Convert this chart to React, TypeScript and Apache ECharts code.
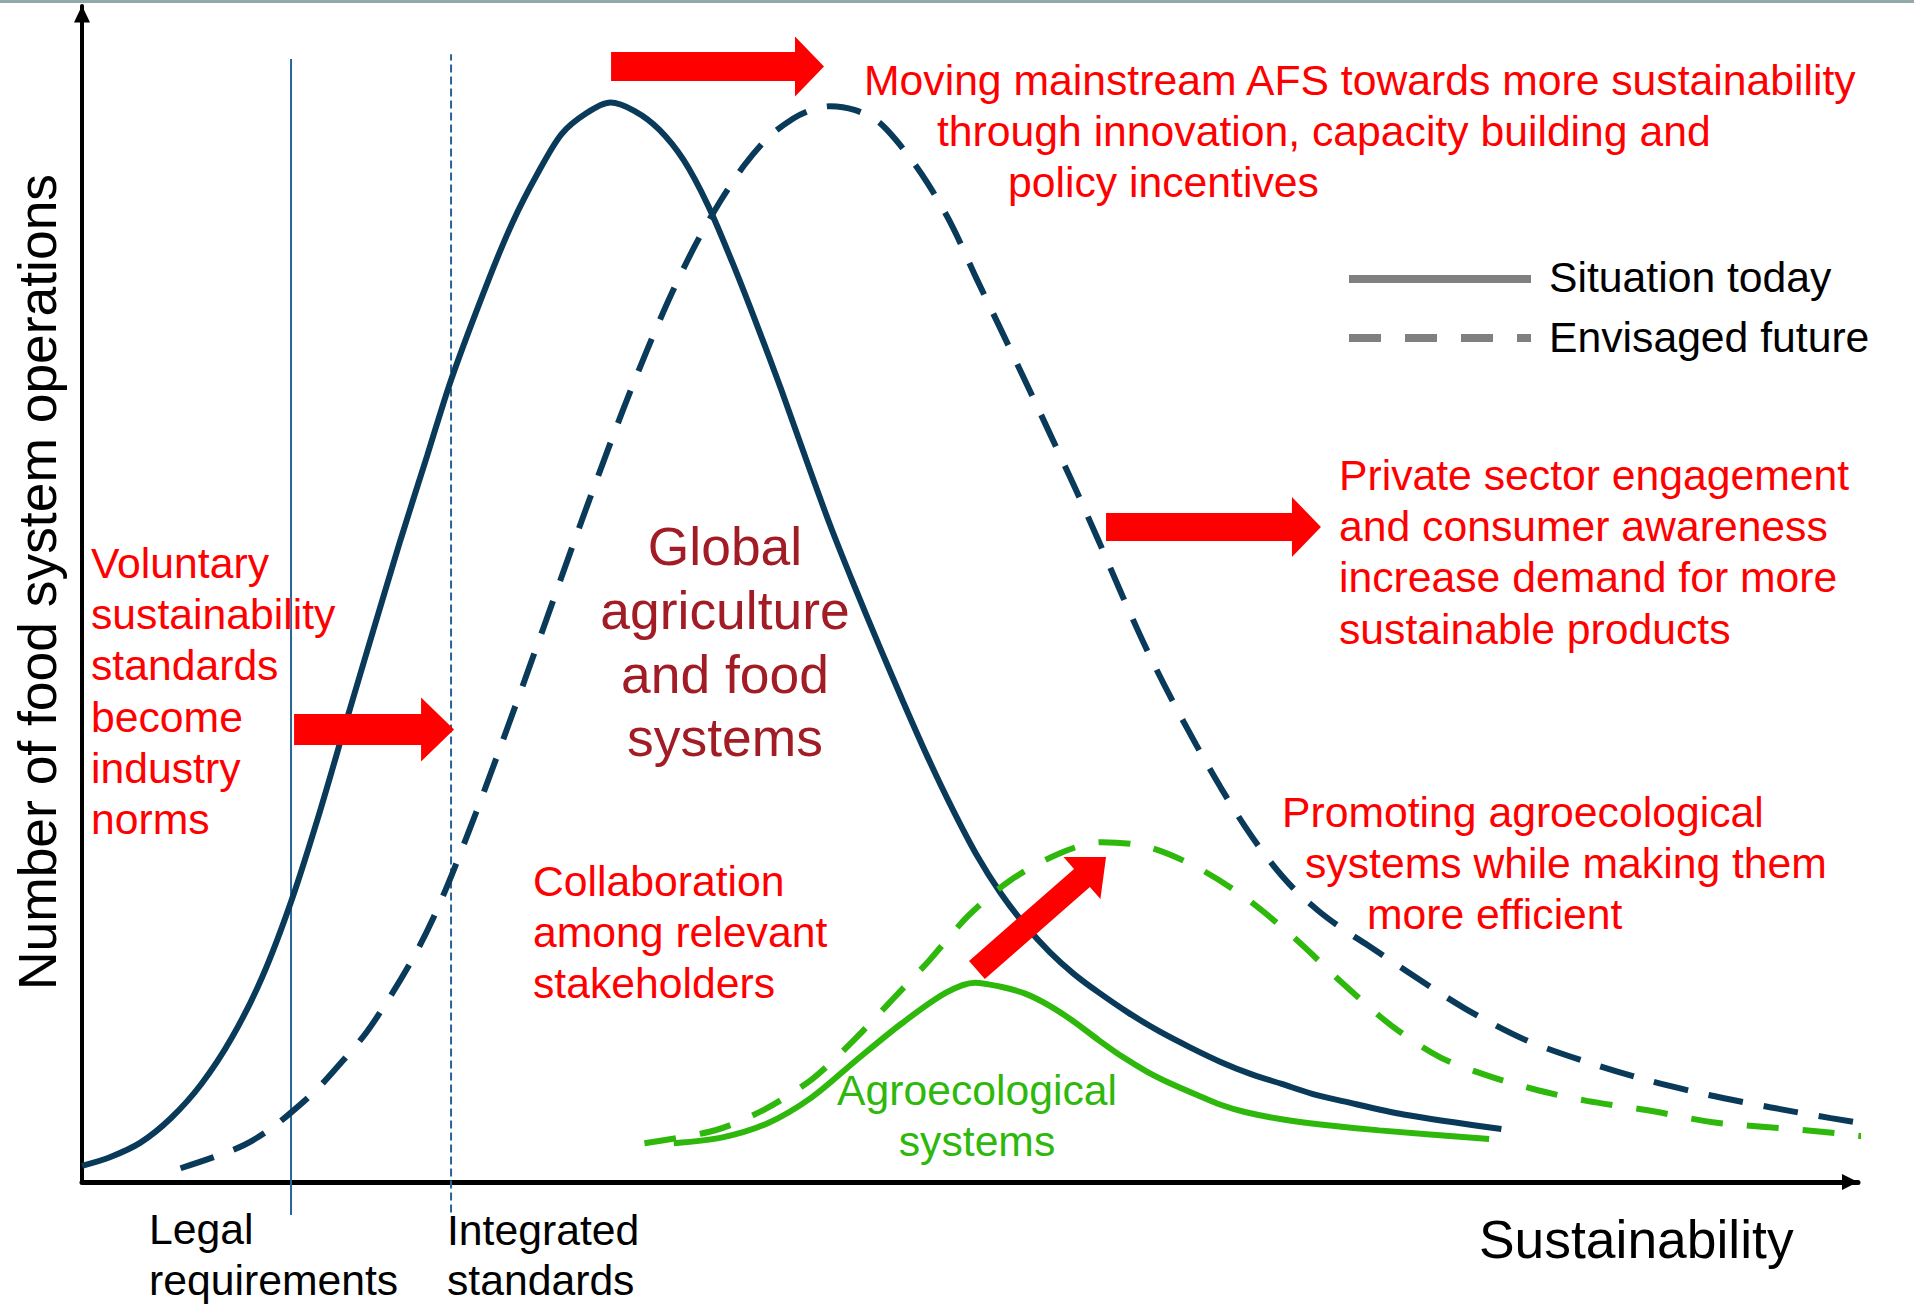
import React, { useEffect, useRef } from "react";
import * as echarts from "echarts";

// Arbitrary units: x = sustainability (0–100), y = number of food system operations (0–100)
const mainstreamToday: [number, number][] = [
  [0, 1.38], [1.57, 2.11], [3.29, 3.35], [5.0, 5.42], [6.72, 8.33], [8.44, 12.28], [10.16, 17.47],
  [11.81, 24.0], [13.39, 31.48], [14.9, 39.27], [16.41, 46.95], [17.92, 54.53], [19.44, 61.79],
  [20.81, 68.33], [22.87, 76.63], [24.25, 81.62], [25.62, 85.67], [26.99, 89.09], [28.37, 90.86],
  [29.75, 91.79], [31.12, 91.07], [32.49, 89.51], [33.87, 86.91], [35.24, 83.07],
  [36.62, 78.19], [38.0, 72.89], [39.37, 67.39], [40.74, 61.58], [42.12, 55.87], [43.49, 50.68],
  [44.86, 45.7], [46.24, 40.82], [47.61, 36.15], [48.99, 31.79], [50.36, 27.85], [51.74, 24.53],
  [53.11, 21.83], [54.49, 19.55], [55.86, 17.68], [57.24, 16.12], [58.95, 14.36], [60.67, 12.8],
  [62.39, 11.45], [64.11, 10.21], [65.83, 9.17], [67.55, 8.34], [69.27, 7.5], [70.98, 6.88],
  [74.42, 5.74], [79.92, 4.5],
];

const mainstreamFuture: [number, number][] = [
  [5.55, 1.17], [7.41, 2.11], [9.13, 3.15], [10.5, 4.39], [11.88, 6.05], [13.25, 7.92], [14.62, 10.2],
  [16.0, 12.69], [17.37, 15.81], [18.75, 19.34], [19.78, 22.45], [20.81, 26.08], [22.18, 31.38],
  [23.56, 36.98], [24.93, 42.69], [26.31, 48.51], [27.68, 54.32], [29.06, 60.03], [30.43, 65.53],
  [31.81, 70.72], [33.18, 75.49], [34.56, 79.75], [35.93, 83.38], [37.31, 86.5], [38.68, 88.88],
  [40.05, 90.44], [41.08, 91.17], [42.12, 91.48], [43.49, 91.17], [44.86, 90.13], [46.24, 87.85],
  [47.61, 84.94], [48.99, 81.31], [50.36, 76.84], [51.74, 72.48], [53.11, 68.12], [54.49, 63.66],
  [55.86, 59.2], [57.24, 54.53], [58.61, 49.75], [59.98, 45.19], [61.36, 41.03], [62.73, 37.19],
  [64.11, 33.56], [65.48, 30.24], [66.86, 27.33], [68.23, 24.94], [69.61, 23.07], [70.98, 21.52],
  [72.36, 20.17], [74.42, 18.09], [77.85, 14.77], [81.29, 12.07], [84.73, 10.2], [88.17, 8.64],
  [91.6, 7.4], [95.04, 6.36], [98.47, 5.43], [101.91, 4.6], [102.94, 4.29],
];

const agroToday: [number, number][] = [
  [33.32, 3.3], [36.07, 3.8], [38.61, 5.0], [41.09, 7.2], [43.63, 10.4], [46.17, 13.5],
  [48.65, 16.1], [50.29, 16.95], [51.74, 16.6], [53.11, 16.02], [54.49, 14.98],
  [55.86, 13.63], [57.24, 12.07], [58.61, 10.62], [59.98, 9.37], [61.36, 8.33], [62.94, 7.3],
  [64.11, 6.57], [65.48, 5.95], [67.55, 5.33], [69.61, 4.91], [73.05, 4.39], [79.23, 3.66],
];

const agroFuture: [number, number][] = [
  [31.67, 3.3], [35.66, 4.4], [38.47, 6.2], [41.15, 8.8], [43.42, 12.0], [45.62, 15.5],
  [47.68, 18.8], [49.88, 22.6], [52.22, 25.6], [54.97, 27.9], [57.4, 28.9],
  [59.98, 28.5], [62.73, 26.8], [65.48, 24.2], [68.23, 20.8], [70.98, 16.9], [73.73, 13.3],
  [76.48, 10.6], [79.23, 9.0], [81.98, 7.8], [84.73, 6.9], [88.17, 6.1], [91.74, 5.1],
  [94.6, 4.7], [97.8, 4.3], [100.74, 3.8],
];

// reference levels on the sustainability axis
const legalLine: [number, number][] = [[11.77, -2.8], [11.77, 95.5]];
const integratedLine: [number, number][] = [[20.78, -2.6], [20.78, 95.9]];

// red arrows: [fromX, fromY, toX, toY]
const arrows: number[][] = [
  [29.79, 94.86, 41.78, 94.86],
  [11.94, 38.48, 20.95, 38.48],
  [57.66, 55.7, 69.76, 55.7],
  [50.39, 18.03, 57.66, 27.64],
];
const arrowSizes = [
  { body: 29, head: 60, headLen: 29 },
  { body: 31, head: 64, headLen: 33 },
  { body: 28, head: 60, headLen: 29 },
  { body: 24, head: 56, headLen: 32 },
];

const FONT = "'Liberation Sans', Arial, sans-serif";
const RED = "#FF0000";
const NAVY = "#0A3A5A";
const GREEN = "#2EB80C";
const FS = 42.7;
const FL = 53.4;

function txt(text: string, x: number, y: number, fill: string, fontSize: number, align = "left", rotation = 0) {
  return {
    type: "text",
    x,
    y,
    rotation,
    silent: true,
    z: 10,
    style: {
      text,
      fill,
      fontSize,
      fontFamily: FONT,
      align,
      textAlign: align,
      verticalAlign: "middle",
      textVerticalAlign: "middle",
    },
  };
}

function curve(name: string, data: [number, number][], color: string, z: number, dash?: number[]) {
  return {
    name,
    type: "line",
    data,
    smooth: 0.3,
    showSymbol: false,
    symbol: "none",
    clip: false,
    z,
    lineStyle: dash ? { color, width: 6, type: dash } : { color, width: 6 },
  };
}

export default function App() {
  const ref = useRef<HTMLDivElement>(null);
  useEffect(() => {
    const chart = echarts.init(ref.current!, null, { renderer: "svg" });
    const axisCommon = {
      type: "value",
      min: 0,
      max: 100,
      axisLabel: { show: false },
      axisTick: { show: false },
      splitLine: { show: false },
    };
    const option: any = {
      animation: false,
      backgroundColor: "#FFFFFF",
      grid: { left: 82, right: 56, top: 6, bottom: 122, containLabel: false, outerBoundsMode: "none" },
      xAxis: {
        ...axisCommon,
        axisLine: {
          show: true,
          onZero: true,
          symbol: ["none", "triangle"],
          symbolSize: [16, 16],
          symbolOffset: [0, -8],
          lineStyle: { color: "#000000", width: 5 },
        },
      },
      yAxis: {
        ...axisCommon,
        axisLine: {
          show: true,
          onZero: true,
          symbol: ["none", "triangle"],
          symbolSize: [16, 17],
          symbolOffset: [0, -8],
          lineStyle: { color: "#000000", width: 4 },
        },
      },
      series: [
        {
          name: "Legal requirements",
          type: "line",
          data: legalLine,
          showSymbol: false,
          symbol: "none",
          clip: false,
          silent: true,
          z: 1,
          lineStyle: { color: "#2A6496", width: 2 },
        },
        {
          name: "Integrated standards",
          type: "line",
          data: integratedLine,
          showSymbol: false,
          symbol: "none",
          clip: false,
          silent: true,
          z: 1,
          lineStyle: { color: "#2A6496", width: 2, type: [8, 4] },
        },
        curve("Global agriculture and food systems – situation today", mainstreamToday, NAVY, 2),
        curve("Global agriculture and food systems – envisaged future", mainstreamFuture, NAVY, 2, [35, 21]),
        curve("Agroecological systems – situation today", agroToday, GREEN, 3),
        curve("Agroecological systems – envisaged future", agroFuture, GREEN, 3, [32, 24]),
        {
          name: "Shifts",
          type: "custom",
          data: arrows,
          encode: { x: [0, 2], y: [1, 3] },
          clip: false,
          silent: true,
          z: 6,
          renderItem: (params: any, api: any) => {
            const p0 = api.coord([api.value(0), api.value(1)]);
            const p1 = api.coord([api.value(2), api.value(3)]);
            const s = arrowSizes[params.dataIndex];
            const dx = p1[0] - p0[0];
            const dy = p1[1] - p0[1];
            const len = Math.hypot(dx, dy);
            const ux = dx / len;
            const uy = dy / len;
            const nx = -uy;
            const ny = ux;
            const bx = p1[0] - ux * s.headLen;
            const by = p1[1] - uy * s.headLen;
            const points = [
              [p0[0] + (nx * s.body) / 2, p0[1] + (ny * s.body) / 2],
              [bx + (nx * s.body) / 2, by + (ny * s.body) / 2],
              [bx + (nx * s.head) / 2, by + (ny * s.head) / 2],
              [p1[0], p1[1]],
              [bx - (nx * s.head) / 2, by - (ny * s.head) / 2],
              [bx - (nx * s.body) / 2, by - (ny * s.body) / 2],
              [p0[0] - (nx * s.body) / 2, p0[1] - (ny * s.body) / 2],
            ];
            return { type: "polygon", shape: { points }, style: { fill: RED, stroke: "none" } };
          },
        },
      ],
      graphic: [
        { type: "rect", shape: { x: 0, y: 0, width: 1914, height: 3 }, style: { fill: "#93A8A8" }, silent: true },
        // legend
        {
          type: "line",
          shape: { x1: 1349, y1: 279, x2: 1531, y2: 279 },
          style: { stroke: "#808080", lineWidth: 8 },
          silent: true,
        },
        {
          type: "line",
          shape: { x1: 1349, y1: 338, x2: 1531, y2: 338 },
          style: { stroke: "#808080", lineWidth: 8, lineDash: [32, 24] },
          silent: true,
        },
        txt("Situation today", 1549, 277, "#000000", FS),
        txt("Envisaged future", 1549, 337, "#000000", FS),
        // axis titles
        txt("Number of food system operations", 37, 582, "#000000", FL, "center", Math.PI / 2),
        txt("Sustainability", 1479, 1239, "#000000", FL),
        txt("Legal", 149, 1229, "#000000", FS),
        txt("requirements", 149, 1280, "#000000", FS),
        txt("Integrated", 447, 1230, "#000000", FS),
        txt("standards", 447, 1280, "#000000", FS),
        // main label
        txt("Global", 725, 546, "#A21C26", FL, "center"),
        txt("agriculture", 725, 610, "#A21C26", FL, "center"),
        txt("and food", 725, 674, "#A21C26", FL, "center"),
        txt("systems", 725, 737, "#A21C26", FL, "center"),
        txt("Agroecological", 977, 1090, GREEN, FS, "center"),
        txt("systems", 977, 1141, GREEN, FS, "center"),
        // red annotations
        txt("Moving mainstream AFS towards more sustainability", 864, 80, RED, FS),
        txt("through innovation, capacity building and", 937, 131, RED, FS),
        txt("policy incentives", 1008, 182, RED, FS),
        txt("Private sector engagement", 1339, 475, RED, FS),
        txt("and consumer awareness", 1339, 526, RED, FS),
        txt("increase demand for more", 1339, 577, RED, FS),
        txt("sustainable products", 1339, 629, RED, FS),
        txt("Voluntary", 91, 563, RED, FS),
        txt("sustainability", 91, 614, RED, FS),
        txt("standards", 91, 665, RED, FS),
        txt("become", 91, 717, RED, FS),
        txt("industry", 91, 768, RED, FS),
        txt("norms", 91, 819, RED, FS),
        txt("Collaboration", 533, 881, RED, FS),
        txt("among relevant", 533, 932, RED, FS),
        txt("stakeholders", 533, 983, RED, FS),
        txt("Promoting agroecological", 1282, 812, RED, FS),
        txt("systems while making them", 1305, 863, RED, FS),
        txt("more efficient", 1367, 914, RED, FS),
      ],
    };
    chart.setOption(option);
    return () => chart.dispose();
  }, []);
  return (
    <div
      ref={ref}
      style={{ position: "fixed", left: 0, top: 0, width: 1914, height: 1304, background: "#FFFFFF" }}
    />
  );
}
